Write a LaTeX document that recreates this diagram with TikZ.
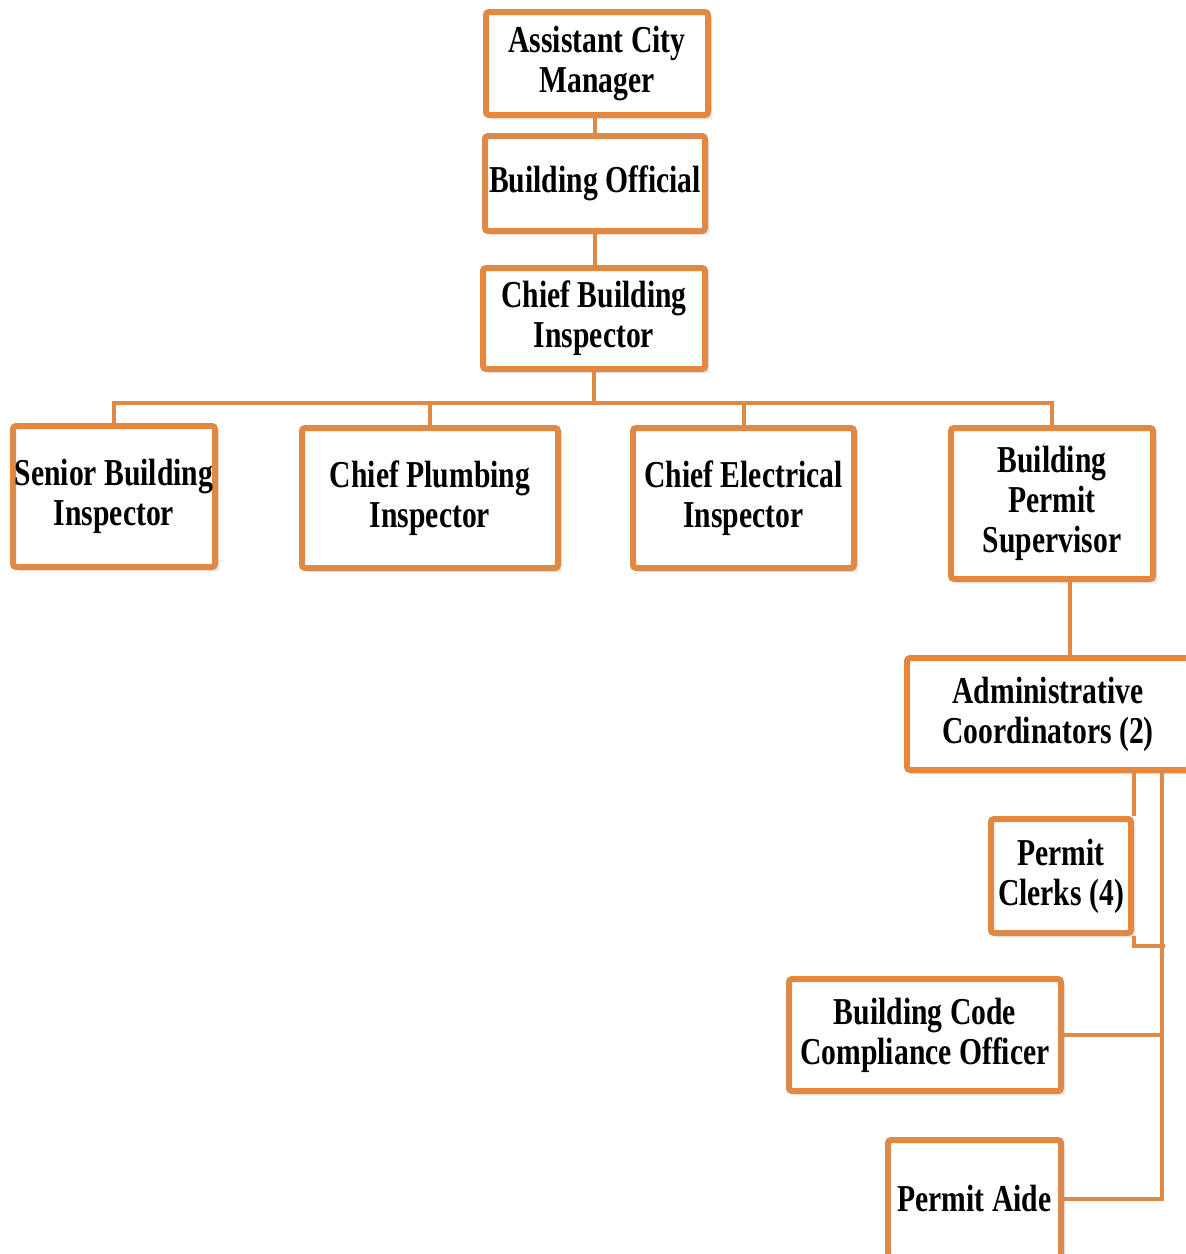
\documentclass[tikz,border=0pt]{standalone}
\usepackage{fontspec}
\newfontfamily\chartfont{Liberation Serif}[FakeStretch=0.78]
\usetikzlibrary{shadows}
\definecolor{chartorange}{RGB}{225,137,66}

\begin{document}
\begin{tikzpicture}[x=0.5pt, y=-0.5pt,
	post/.style={rectangle, draw=chartorange, line width=3pt, fill=white, align=center, inner sep=0pt,
		rounded corners=1.5pt, font=\chartfont\bfseries\fontsize{19}{20}\selectfont,
		drop shadow={shadow xshift=2.2pt, shadow yshift=-2.2pt, opacity=0.2}},
	link/.style={draw=chartorange, line width=2pt}]
	\useasboundingbox (0,0) rectangle (1186,1254);

	\coordinate (bus) at (594,403);
	\coordinate (rail) at (1162,0);

	\node[post, minimum width=111pt, minimum height=51.5pt] (acm) at (597,63.5) {Assistant City\\Manager};
	\node[post, minimum width=110pt, minimum height=47.5pt] (bo) at (595,183.5) {Building Official};
	\node[post, minimum width=111pt, minimum height=50.5pt] (cbi) at (594,318.5) {Chief Building\\Inspector};

	\node[post, minimum width=101pt, minimum height=70.5pt] (sbi) at (114,496.5) {Senior Building\\Inspector};
	\node[post, minimum width=128pt, minimum height=70pt] (cpi) at (430,498) {Chief Plumbing\\Inspector};
	\node[post, minimum width=110.5pt, minimum height=70pt] (cei) at (743.5,498) {Chief Electrical\\Inspector};
	\node[post, minimum width=101pt, minimum height=75.5pt] (bps) at (1052,503.5) {Building\\Permit\\Supervisor};

	\node[post, minimum width=141pt, minimum height=56pt] (ac) at (1048,714) {Administrative\\Coordinators (2)};
	\node[post, minimum width=70pt, minimum height=57pt] (pc) at (1061,876) {Permit\\Clerks (4)};
	\node[post, minimum width=136pt, minimum height=56pt] (bcc) at (925,1035) {Building Code\\Compliance Officer};
	\node[post, minimum width=86.5pt, minimum height=58.5pt] (pa) at (974.5,1198.5) {Permit Aide};

	\draw[link] (acm.south -| bo.north) -- (bo.north);
	\draw[link] (bo.south) -- (cbi.north -| bo.south);
	\draw[link] (cbi.south) -- (bus) -| (sbi.north);
	\draw[link] (bus) -| (cpi.north);
	\draw[link] (bus) -| (cei.north);
	\draw[link] (bus) -| (bps.north);

	\draw[link] ([xshift=9pt]bps.south) -- ([xshift=9pt]bps.south |- ac.north);
	\draw[link] (pc.north east |- ac.south) -- (pc.north east);
	\draw[link] (pc.south east) -- ++(0,10) -- ([yshift=-5pt]pc.south east -| rail) -- ++(3,0);
	\draw[link] (ac.south -| rail) -- (pa.east -| rail) -- (pa.east);
	\draw[link] (bcc.east) -- (bcc.east -| rail);
\end{tikzpicture}
\end{document}
